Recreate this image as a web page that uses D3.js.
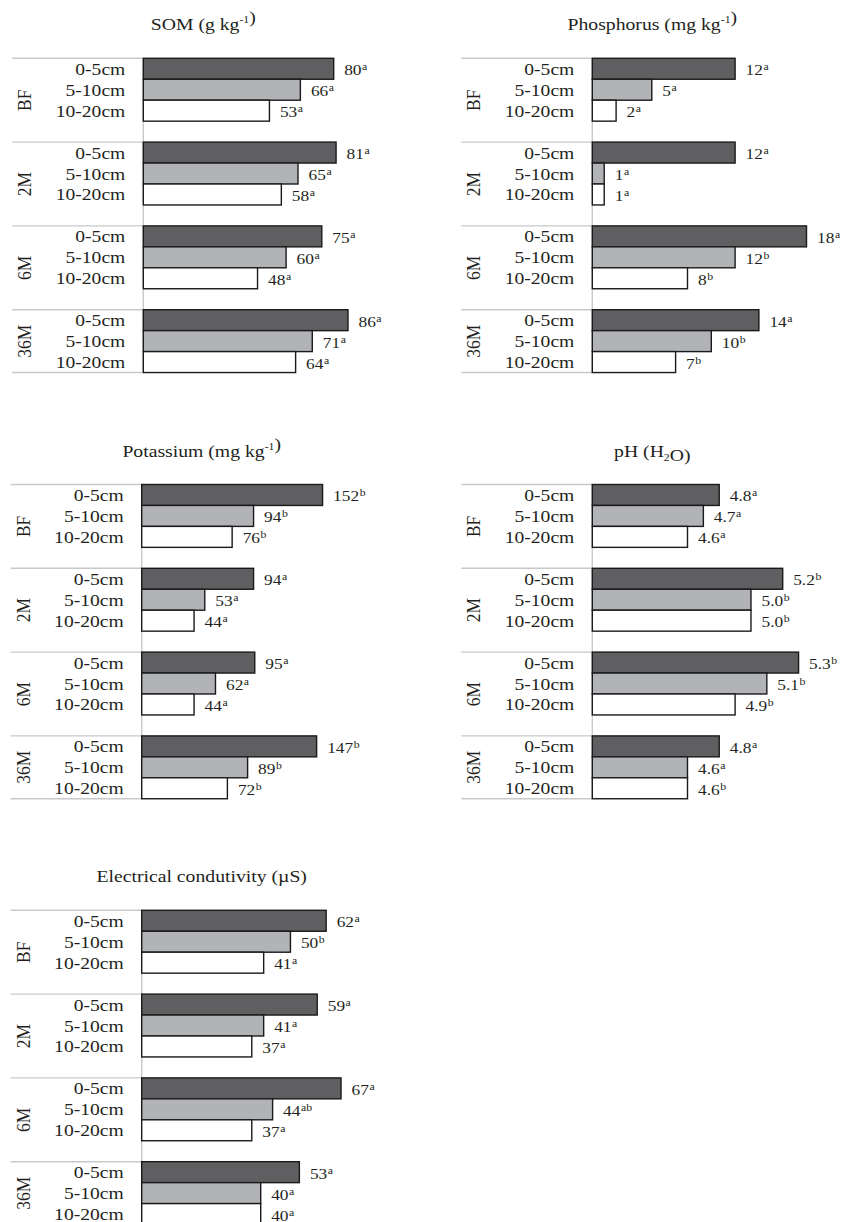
<!DOCTYPE html>
<html>
<head>
<meta charset="utf-8">
<script src="https://cdn.jsdelivr.net/npm/d3@7"></script>
<style>
  body { margin: 0; background: #fff; }
  svg text { font-family: "Liberation Serif", "Times New Roman", serif; fill: #231f20; }
</style>
</head>
<body>
<div id="chart"></div>
<script>
// data
var groups = ["BF", "2M", "6M", "36M"];
var depths = ["0-5cm", "5-10cm", "10-20cm"];

var somValues = [[80, 66, 53], [81, 65, 58], [75, 60, 48], [86, 71, 64]];
var somLetters = [["a", "a", "a"], ["a", "a", "a"], ["a", "a", "a"], ["a", "a", "a"]];

var phosValues = [[12, 5, 2], [12, 1, 1], [18, 12, 8], [14, 10, 7]];
var phosLetters = [["a", "a", "a"], ["a", "a", "a"], ["a", "b", "b"], ["a", "b", "b"]];

var potValues = [[152, 94, 76], [94, 53, 44], [95, 62, 44], [147, 89, 72]];
var potLetters = [["b", "b", "b"], ["a", "a", "a"], ["a", "a", "a"], ["b", "b", "b"]];

var phValues = [[4.8, 4.7, 4.6], [5.2, 5.0, 5.0], [5.3, 5.1, 4.9], [4.8, 4.6, 4.6]];
var phLetters = [["a", "a", "a"], ["b", "b", "b"], ["b", "b", "b"], ["a", "a", "b"]];

var ecValues = [[62, 50, 41], [59, 41, 37], [67, 44, 37], [53, 40, 40]];
var ecLetters = [["a", "b", "a"], ["a", "a", "a"], ["a", "ab", "a"], ["a", "a", "a"]];

// chart layout
var svgWidth = 845;
var svgHeight = 1222;
var SX = 1.12;          // text in the figure is a bit stretched sideways
var band = 20.95;
var plotWidth = 238;
var depthFill = ["#5f5f61", "#b2b3b6", "#ffffff"];

var panels = [
    {title: [["SOM (g kg"], ["-1", "sup"], [")"]], values: somValues, letters: somLetters,
        domain: [0, 100], fmt: d3.format("d"), axisX: 143.3, top: 58.3},
    {title: [["Phosphorus (mg kg"], ["-1", "sup"], [")"]], values: phosValues, letters: phosLetters,
        domain: [0, 20], fmt: d3.format("d"), axisX: 592.3, top: 58.3},
    {title: [["Potassium (mg kg"], ["-1", "sup"], [")"]], values: potValues, letters: potLetters,
        domain: [0, 200], fmt: d3.format("d"), axisX: 141.7, top: 484.5},
    {title: [["pH (H"], ["2", "sub"], ["O)"]], values: phValues, letters: phLetters,
        domain: [4, 5.5], fmt: d3.format(".1f"), axisX: 592.3, top: 484.5},
    {title: [["Electrical condutivity (\u00b5S)"]], values: ecValues, letters: ecLetters,
        domain: [0, 80], fmt: d3.format("d"), axisX: 141.7, top: 910.3}
];

var svg = d3.select("#chart").append("svg")
    .attr("width", svgWidth)
    .attr("height", svgHeight);

// text with the sideways stretch
function addText(parent, x, y, size, anchor, rotate) {
    return parent.append("text")
        .attr("transform", `translate(${x},${y}) scale(${SX},1)` + (rotate ? ` rotate(${rotate})` : ""))
        .attr("font-size", size)
        .attr("text-anchor", anchor);
}

panels.forEach(function (p) {
    var chartGroup = svg.append("g");

    // rows: three depths per group, an empty slot between groups
    var rows = [];
    groups.forEach(function (grp, gi) {
        depths.forEach(function (d) { rows.push(grp + "|" + d); });
        if (gi < groups.length - 1) rows.push(grp + "|gap");
    });

    var yScale = d3.scaleBand()
        .domain(rows)
        .range([p.top, p.top + band * rows.length])
        .padding(0);

    var xScale = d3.scaleLinear()
        .domain(p.domain)
        .range([p.axisX, p.axisX + plotWidth]);

    var bh = yScale.bandwidth();
    var yBottom = yScale.range()[1];

    var bars = [];
    groups.forEach(function (grp, gi) {
        depths.forEach(function (d, di) {
            bars.push({group: grp, depth: d, di: di, value: p.values[gi][di], letter: p.letters[gi][di]});
        });
    });

    // title
    var title = addText(chartGroup, p.axisX + 60, p.top - 28, 17.6, "middle");
    p.title.forEach(function (part) {
        var ts = title.append("tspan").text(part[0]);
        if (part[1] === "sup") {
            ts.attr("font-size", 10.5).attr("dy", -7);
            title.append("tspan").attr("dy", 7).text("");
        } else if (part[1] === "sub") {
            ts.attr("font-size", 10.5).attr("dy", 4);
            title.append("tspan").attr("dy", -4).text("");
        }
    });

    // group separator lines
    var lineYs = groups.map(function (grp) { return yScale(grp + "|0-5cm"); }).concat([yBottom]);
    chartGroup.selectAll("line.sep")
        .data(lineYs)
        .enter()
        .append("line")
        .attr("x1", p.axisX - 131)
        .attr("x2", p.axisX)
        .attr("y1", d => d)
        .attr("y2", d => d)
        .attr("stroke", "#c9c9c9")
        .attr("stroke-width", 1.4);

    // vertical axis
    chartGroup.append("line")
        .attr("x1", p.axisX)
        .attr("x2", p.axisX)
        .attr("y1", p.top)
        .attr("y2", yBottom)
        .attr("stroke", "#c9c9c9")
        .attr("stroke-width", 1.4);

    // bars
    chartGroup.selectAll("rect.bar")
        .data(bars)
        .enter()
        .append("rect")
        .attr("class", "bar")
        .attr("x", xScale(p.domain[0]))
        .attr("y", d => yScale(d.group + "|" + d.depth))
        .attr("width", d => xScale(d.value) - xScale(p.domain[0]))
        .attr("height", bh)
        .attr("fill", d => depthFill[d.di])
        .attr("stroke", "#1a1a1a")
        .attr("stroke-width", 1.4);

    // value labels with letters
    bars.forEach(function (d) {
        var t = addText(chartGroup, xScale(d.value) + 10.5, yScale(d.group + "|" + d.depth) + bh / 2 + 6.5, 15.5, "start");
        t.append("tspan").text(p.fmt(d.value));
        t.append("tspan").attr("font-size", 10.5).attr("dy", -5).attr("dx", 0.5).text(d.letter);
    });

    // depth labels
    bars.forEach(function (d) {
        addText(chartGroup, p.axisX - 18, yScale(d.group + "|" + d.depth) + bh / 2 + 6, 17.5, "end")
            .text(d.depth);
    });

    // group labels, rotated
    groups.forEach(function (grp, gi) {
        var n = gi < groups.length - 1 ? 4 : 3;
        var cy = yScale(grp + "|0-5cm") + band * n / 2;
        addText(chartGroup, p.axisX - 112, cy, 17.5, "middle", -90).text(grp);
    });
});
</script>
</body>
</html>
